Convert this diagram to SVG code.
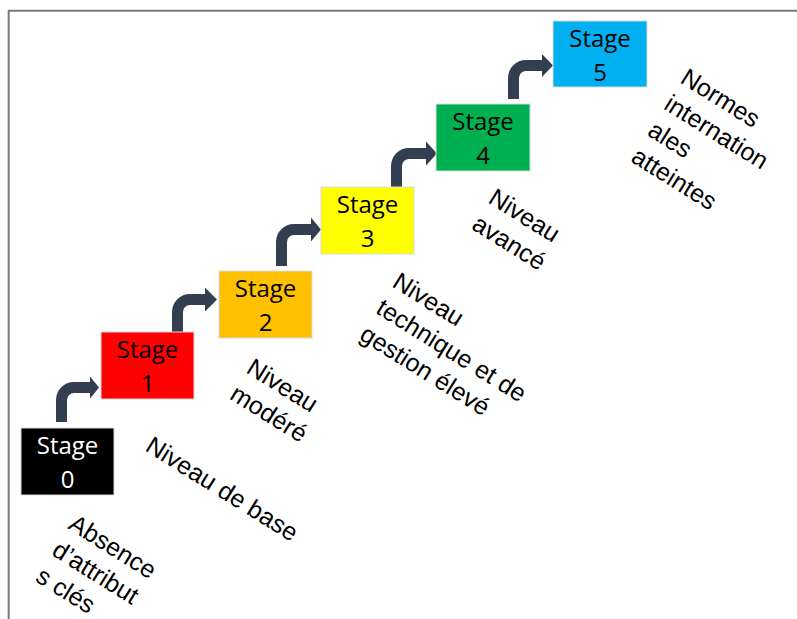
<svg xmlns="http://www.w3.org/2000/svg" width="797" height="619" viewBox="0 0 797 619">
<style>
.box{stroke:#d9d9d9;stroke-width:1}
.st{font-family:"Open Sans","Noto Sans",sans-serif;font-size:24px;text-anchor:middle;fill:#000}
.lbl{font-family:"Liberation Sans",Arial,sans-serif;font-size:25px;fill:#000}
.arr{fill:#333f50}
</style>
<rect width="797" height="619" fill="#fff"/>
<path d="M8.7,619 V10.7 H797" fill="none" stroke="#7a7a7a" stroke-width="2"/>
<g id="connectors">
<path class="arr" d="M56,422 V400 A18,18 0 0 1 74,382 H90 V376.5 L99,387.5 L90,398.5 V393 H74 A7,7 0 0 0 67,400 V422 Z"/>
<path class="arr" d="M172,332 V312 A18,18 0 0 1 190,294 H205 V287.5 L217,299.5 L205,311.5 V305 H190 A7,7 0 0 0 183,312 V332 Z"/>
<path class="arr" d="M276,266 V242 A18,18 0 0 1 294,224 H311 V217.5 L321,229.5 L311,241.5 V235 H294 A7,7 0 0 0 287,242 V266 Z"/>
<path class="arr" d="M391,187 V166 A18,18 0 0 1 409,148 H426 V141.5 L437,153.5 L426,165.5 V159 H409 A7,7 0 0 0 402,166 V187 Z"/>
<path class="arr" d="M508,99 V78 A18,18 0 0 1 526,60 H542 V54 L553,65.5 L542,77 V71 H526 A7,7 0 0 0 519,78 V99 Z"/>
</g>
<g id="stage0"><rect class="box" x="21" y="428" width="93" height="67" fill="#000"/><text class="st" style="fill:#fff" x="67.5" y="454">Stage</text><text class="st" style="fill:#fff" x="67.5" y="488">0</text></g>
<g id="stage1"><rect class="box" x="101" y="332" width="93" height="67" fill="#ff0000"/><text class="st" x="147.5" y="358">Stage</text><text class="st" x="147.5" y="392">1</text></g>
<g id="stage2"><rect class="box" x="219" y="271" width="93" height="67" fill="#ffc000"/><text class="st" x="265.5" y="297">Stage</text><text class="st" x="265.5" y="331">2</text></g>
<g id="stage3"><rect class="box" x="321" y="187" width="93" height="67" fill="#ffff00"/><text class="st" x="367.5" y="213">Stage</text><text class="st" x="367.5" y="247">3</text></g>
<g id="stage4"><rect class="box" x="436" y="104" width="94" height="67" fill="#00b050"/><text class="st" x="483" y="130">Stage</text><text class="st" x="483" y="164">4</text></g>
<g id="stage5"><rect class="box" x="553" y="21" width="94" height="66" fill="#00b0f0"/><text class="st" x="600" y="47">Stage</text><text class="st" x="600" y="81">5</text></g>
<g id="label0"><text class="lbl" transform="translate(67,528) rotate(32)"><tspan x="0" y="0">Absence</tspan><tspan x="0" y="31">d’attribut</tspan><tspan x="0" y="62">s clés</tspan></text></g>
<g id="label1"><text class="lbl" transform="translate(144,450) rotate(32)"><tspan x="0" y="0">Niveau de base</tspan></text></g>
<g id="label2"><text class="lbl" transform="translate(245,372) rotate(32)"><tspan x="0" y="0">Niveau</tspan><tspan x="0" y="31">modéré</tspan></text></g>
<g id="label3"><text class="lbl" transform="translate(391,286) rotate(32)"><tspan x="0" y="0">Niveau</tspan><tspan x="0" y="31">technique et de</tspan><tspan x="0" y="62">gestion élevé</tspan></text></g>
<g id="label4"><text class="lbl" transform="translate(487,202) rotate(32)"><tspan x="0" y="0">Niveau</tspan><tspan x="0" y="31">avancé</tspan></text></g>
<g id="label5"><text class="lbl" transform="translate(679,82) rotate(32)"><tspan x="0" y="0">Normes</tspan><tspan x="0" y="31">internation</tspan><tspan x="0" y="62">ales</tspan><tspan x="0" y="93">atteintes</tspan></text></g>
</svg>
